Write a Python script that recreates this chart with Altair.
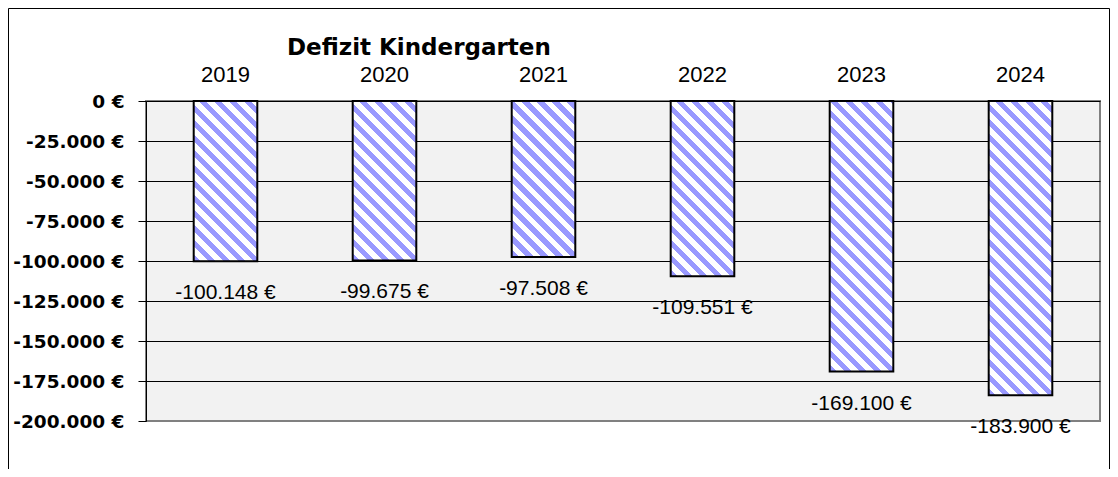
import math
import altair as alt
import pandas as pd

# ---------------- data ----------------
years = ["2019", "2020", "2021", "2022", "2023", "2024"]
deficits = [-100148, -99675, -97508, -109551, -169100, -183900]
y_ticks = [0, -25000, -50000, -75000, -100000, -125000, -150000, -175000, -200000]
chart_title = "Defizit Kindergarten"


def euro(v):
    return f"{v:,}".replace(",", ".") + " €"


labels = [euro(v) for v in deficits]

df = pd.DataFrame({"year": years, "value": deficits, "label": labels})

# ---------------- layout / style constants ----------------
W, H = 954, 320
Y_MIN, Y_MAX = -200000, 0
PAD_INNER, PAD_OUTER = 0.6, 0.3
BLUE = "#9999ff"
STRIPE_PERIOD = 15.0  # vertical period of the diagonal hatch, px
STRIPE_FRAC = 0.5
SLOPE = 1.0

step = W / (len(years) - PAD_INNER + 2 * PAD_OUTER)
bar_w = step * (1 - PAD_INNER)


def hatch(value):
    """Diagonal hatch (top-left to bottom-right) built as a linear gradient."""
    h = abs(value) / (Y_MAX - Y_MIN) * H
    wm = SLOPE * bar_w
    k = (wm + h) / (wm ** 2 + h ** 2)
    n = (wm + h) / STRIPE_PERIOD
    stops = []
    j = 0
    while j / n < 1:
        a = j / n
        b = min((j + STRIPE_FRAC) / n, 1)
        c = min((j + 1) / n, 1)
        stops += [
            alt.GradientStop(offset=a, color=BLUE),
            alt.GradientStop(offset=b, color=BLUE),
            alt.GradientStop(offset=b, color="white"),
            alt.GradientStop(offset=c, color="white"),
        ]
        j += 1
    return alt.LinearGradient(
        gradient="linear", x1=0, y1=1, x2=wm * k, y2=1 - h * k, stops=stops
    )


x_enc = alt.X(
    "year:N",
    sort=years,
    scale=alt.Scale(paddingInner=PAD_INNER, paddingOuter=PAD_OUTER),
    axis=alt.Axis(
        orient="top",
        title=None,
        labelAngle=0,
        ticks=False,
        tickSize=0,
        domain=False,
        grid=False,
        labelFont="Liberation Sans",
        labelFontSize=22,
        labelColor="black",
        labelPadding=15,
    ),
)

y_enc = alt.Y(
    "value:Q",
    scale=alt.Scale(domain=[Y_MIN, Y_MAX], nice=False, zero=False),
    axis=alt.Axis(
        values=y_ticks,
        title=None,
        labelExpr="(datum.value < 0 ? '-' : '') + replace(format(abs(datum.value), ',.0f'), ',', '.') + ' €'",
        labelFont="DejaVu Sans",
        labelFontWeight="bold",
        labelFontSize=18.5,
        labelColor="black",
        labelPadding=14,
        labelOverlap=False,
        tickSize=8,
        tickColor="black",
        tickWidth=1,
        domainColor="black",
        domainWidth=1,
        grid=True,
        gridColor={"condition": {"test": "datum.value <= -200000", "value": "#808080"}, "value": "black"},
        gridWidth=1,
        gridOpacity=1,
    ),
)

base = alt.Chart(df).encode(x=x_enc, y=y_enc)

bar_layers = []
for yr, v in zip(years, deficits):
    bar_layers.append(
        base.transform_filter(alt.datum.year == yr)
        .mark_bar(fill=hatch(v), stroke="black", strokeWidth=2, fillOpacity=1)
        .encode(y2=alt.datum(0))
    )

text_layer = base.mark_text(
    dy=32, baseline="middle", align="center",
    font="Liberation Sans", fontSize=21, color="black",
).encode(text="label:N")

title_layer = alt.Chart(alt.Data(values=[{"t": chart_title}])).mark_text(
    align="left", baseline="alphabetic",
    font="DejaVu Sans", fontWeight="bold", fontSize=23, color="black",
).encode(text="t:N", x=alt.value(141), y=alt.value(-46))

frame = alt.Chart(alt.Data(values=[{}])).mark_rect(
    fill="white", fillOpacity=0, stroke="black", strokeWidth=1
).encode(
    x=alt.value(-137.5), x2=alt.value(963.5), y=alt.value(-92.5), y2=alt.value(380)
)

chart = (
    alt.layer(*bar_layers, text_layer, title_layer, frame)
    .properties(
        width=W,
        height=H,
        autosize=alt.AutoSizeParams(type="none"),
        padding={"left": 138, "top": 93, "right": 10, "bottom": 48},
        background="white",
    )
    .configure_view(stroke="#808080", strokeWidth=2, fill="#f2f2f2")
)

chart.save("out.html", embed_options={"renderer": "svg", "actions": False})
